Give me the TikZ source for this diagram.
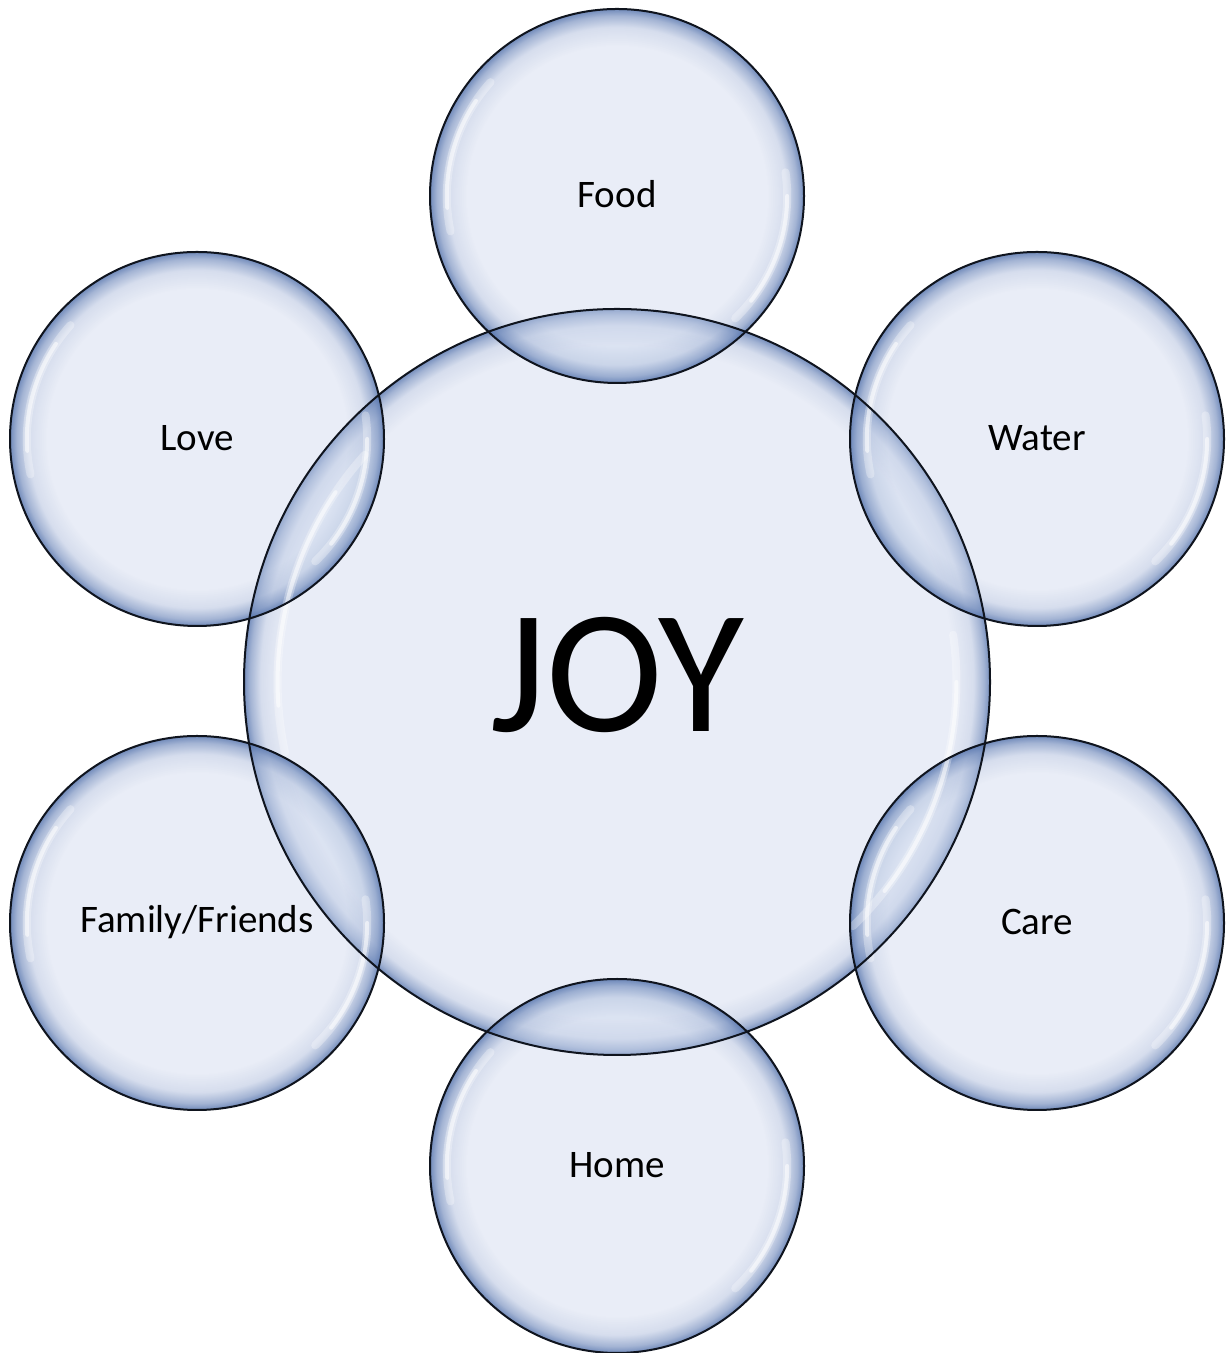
\documentclass[tikz,border=0pt]{standalone}
\usepackage{fontspec}
\setmainfont{Carlito}
\usetikzlibrary{fadings,calc}
\definecolor{bubin}{RGB}{200,212,235}
\definecolor{bubedge}{RGB}{60,95,160}
\definecolor{bubline}{RGB}{15,20,30}
\colorlet{maskA}{black!85}
\colorlet{maskB}{black!45}
\pgfdeclareradialshading{ringmaskS}{\pgfpointorigin}{color(0bp)=(black); color(20bp)=(black); color(22.5bp)=(maskA); color(24bp)=(maskB); color(25bp)=(white); color(50bp)=(white)}
\pgfdeclarefading{ringS}{\pgfuseshading{ringmaskS}}
\pgfdeclareradialshading{ringmaskL}{\pgfpointorigin}{color(0bp)=(black); color(22.5bp)=(black); color(23.8bp)=(maskA); color(24.5bp)=(maskB); color(25bp)=(white); color(50bp)=(white)}
\pgfdeclarefading{ringL}{\pgfuseshading{ringmaskL}}
\tikzset{
  bubfill/.style={fill=bubin, fill opacity=0.4},
  bubring/.style={fill=bubedge, fill opacity=0.72},
  bubstroke/.style={draw=bubline, line width=1pt},
  hlwide/.style={draw=white, line width=4pt, opacity=0.3, line cap=round},
  hlthin/.style={draw=white, line width=2pt, opacity=0.55, line cap=round},
  lbl/.style={anchor=base, inner sep=0pt, font=\fontsize{19.5pt}{23pt}\selectfont, text=black},
  biglbl/.style={anchor=base, inner sep=0pt, font=\fontsize{88pt}{100pt}\selectfont, text=black}
}
\newcommand\bubbody[4]{%
  \fill[bubfill] (#1,#2) circle (#3);
  \fill[bubring, path fading=#4] (#1,#2) circle (#3);
}
\newcommand\bubhl[3]{%
  \draw[hlwide] (#1,#2) ++(138:0.91*#3) arc[start angle=138, end angle=192, radius=0.91*#3];
  \draw[hlthin] (#1,#2) ++(146:0.91*#3) arc[start angle=146, end angle=184, radius=0.91*#3];
  \draw[hlwide] (#1,#2) ++(8:0.91*#3) arc[start angle=8, end angle=-46, radius=0.91*#3];
  \draw[hlthin] (#1,#2) ++(0:0.91*#3) arc[start angle=0, end angle=-38, radius=0.91*#3];
}
\begin{document}
\begin{tikzpicture}[x=0.5pt,y=0.5pt]
\useasboundingbox (0,0) rectangle (1230,1353);
\fill[white] (0,0) rectangle (1230,1353);
% centres (y measured upward)
\coordinate (cJ) at (617,671);
\coordinate (cF) at (617,1157);
\coordinate (cW) at (1037,914);
\coordinate (cC) at (1037,430);
\coordinate (cH) at (617,187);
\coordinate (cR) at (197,430);
\coordinate (cL) at (197,914);
% bodies
\bubbody{617}{671}{373}{ringL}
\bubbody{617}{1157}{187}{ringS}
\bubbody{1037}{914}{187}{ringS}
\bubbody{1037}{430}{187}{ringS}
\bubbody{617}{187}{187}{ringS}
\bubbody{197}{430}{187}{ringS}
\bubbody{197}{914}{187}{ringS}
% highlights
\bubhl{617}{671}{373}
\bubhl{617}{1157}{187}
\bubhl{1037}{914}{187}
\bubhl{1037}{430}{187}
\bubhl{617}{187}{187}
\bubhl{197}{430}{187}
\bubhl{197}{914}{187}
% outlines
\draw[bubstroke] (cJ) circle (373);
\foreach \c in {cF,cW,cC,cH,cR,cL} \draw[bubstroke] (\c) circle (187);
% labels
\node[biglbl] (joy) at ($(cJ)+(0,-50)$) {JOY};
\node[lbl] (food) at ($(cF)+(0,-12)$) {Food};
\node[lbl] (water) at ($(cW)+(0,-12)$) {Water};
\node[lbl] (care) at ($(cC)+(0,-12)$) {Care};
\node[lbl] (home) at ($(cH)+(0,-12)$) {Home};
\node[lbl] (family) at ($(cR)+(0,-10)$) {Family/Friends};
\node[lbl] (love) at ($(cL)+(0,-12)$) {Love};
\end{tikzpicture}
\end{document}
